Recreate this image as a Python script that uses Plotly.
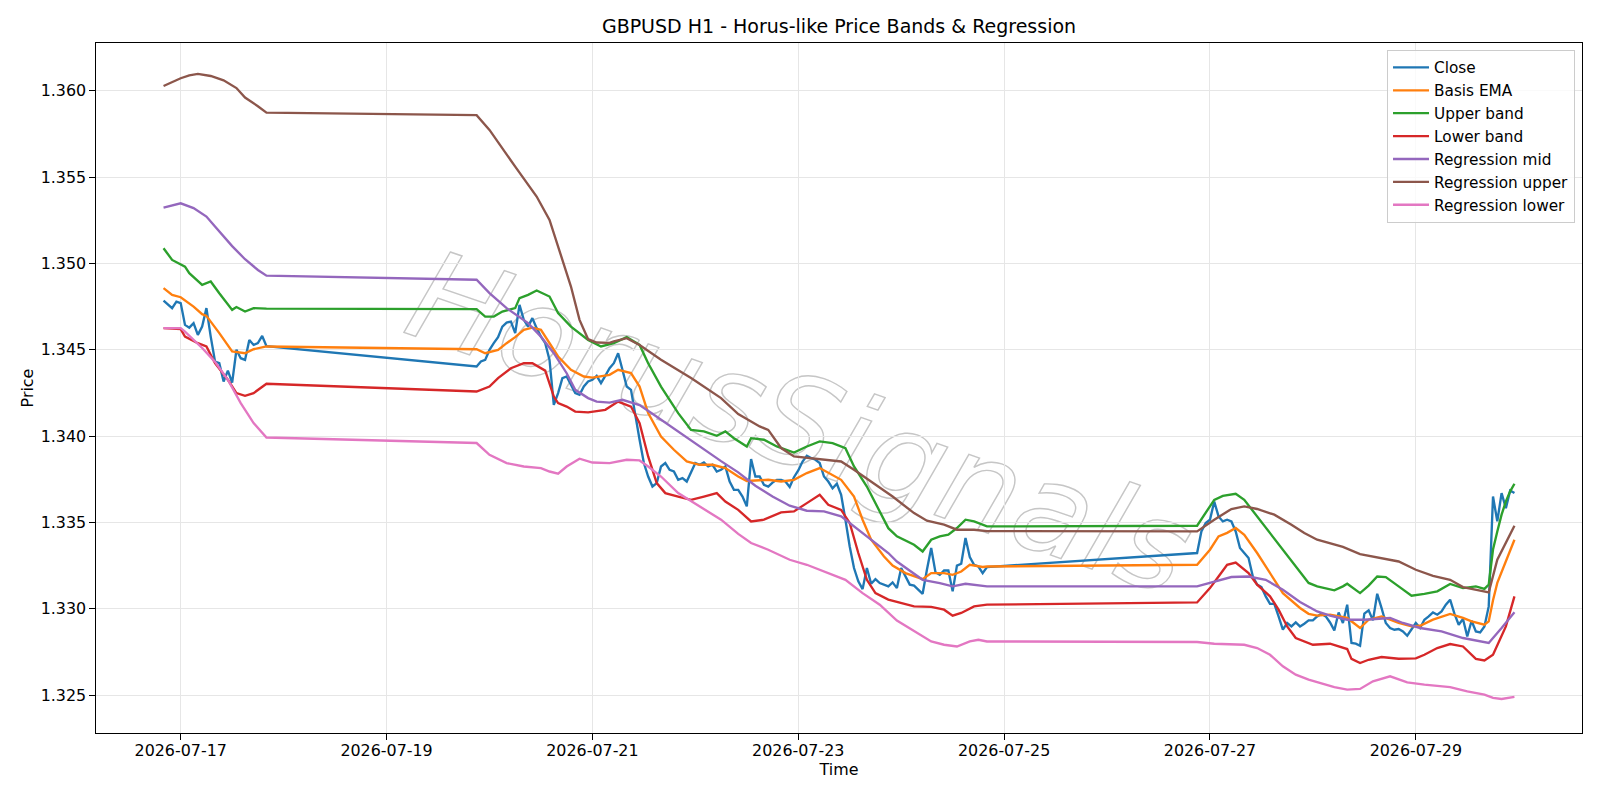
import pandas as pd
import plotly.graph_objects as go

BASE = pd.Timestamp("2026-07-17 00:00")

# ---------------- Close (hourly bars, three sessions) ----------------
close_seg_starts = ["2026-07-16 20:00", "2026-07-19 21:00", "2026-07-26 21:00"]
close_seg1 = [1.34785, 1.3476, 1.34741, 1.34779, 1.3477, 1.34644, 1.34628, 1.34654, 1.34586, 1.34634,
              1.34741, 1.34576, 1.34432, 1.34422, 1.34316, 1.34379, 1.3431, 1.345, 1.34451, 1.34441,
              1.34557, 1.34528, 1.34538, 1.3458, 1.34521]
close_seg2 = [1.34403, 1.34432, 1.34441, 1.34499, 1.34538, 1.34573, 1.34634, 1.34657, 1.34663, 1.34596,
              1.3476, 1.34673, 1.34634, 1.34683, 1.34625, 1.34576, 1.34538, 1.34441, 1.34181, 1.34249,
              1.34336, 1.34345, 1.34297, 1.34249, 1.34239,
              1.34287, 1.34316, 1.34326, 1.34349, 1.34307, 1.34349, 1.34393, 1.34422, 1.3448, 1.34384,
              1.34287, 1.34268, 1.34113, 1.33979, 1.33844, 1.33766, 1.33708, 1.33728, 1.33824, 1.33844,
              1.33805, 1.33795, 1.33747, 1.33757, 1.33737, 1.33795, 1.33844, 1.33834, 1.33847, 1.33824,
              1.33834, 1.33795, 1.33805, 1.33824, 1.33737, 1.33689, 1.33689, 1.3365, 1.33593, 1.33867,
              1.33766, 1.33766,
              1.33718, 1.33708, 1.33731, 1.33747, 1.33747, 1.33737, 1.33705, 1.33762, 1.33801, 1.33853,
              1.33886, 1.33873, 1.33863, 1.33844, 1.33766, 1.33737, 1.33698, 1.33724, 1.3366, 1.33516,
              1.33361, 1.33236, 1.33159, 1.33114, 1.33236, 1.33145, 1.33172,
              1.33149, 1.3314, 1.3313, 1.33153, 1.3312, 1.33236, 1.33191, 1.3314, 1.33134, 1.3311,
              1.33087, 1.33226, 1.33352, 1.33211, 1.33197, 1.33222, 1.33222, 1.33101, 1.3325, 1.33261,
              1.3341, 1.333, 1.33255, 1.33245, 1.33207, 1.33242]
close_seg3 = [1.33323, 1.33448, 1.33497, 1.33516, 1.33621, 1.33535, 1.33506, 1.33516, 1.33506, 1.33448,
              1.33352, 1.33323, 1.33294, 1.33187, 1.3314, 1.33126, 1.33072, 1.33029, 1.33029, 1.32956,
              1.32879, 1.32918, 1.32898, 1.32921, 1.32898, 1.32914, 1.32933, 1.32933, 1.32956,
              1.32972, 1.32956, 1.32921, 1.32875, 1.32979, 1.32918, 1.33024, 1.32802, 1.32798, 1.32786,
              1.32972, 1.32991, 1.32933, 1.33087, 1.33005, 1.32918, 1.32889, 1.32879, 1.32883, 1.32869,
              1.32844, 1.32879, 1.32918, 1.32889, 1.32937, 1.32956, 1.32979, 1.32966, 1.32985, 1.33024,
              1.33053, 1.32972, 1.32908, 1.32941, 1.3284, 1.32931, 1.32869, 1.32863, 1.32898, 1.33014,
              1.3365, 1.33506, 1.3367, 1.33583, 1.33685, 1.3367]

# ---------------- Indicator series (hours from 2026-07-17 00:00) ----------------
ema_hours = [-4, -2, 0, 3, 5, 6, 9, 12, 15, 17, 20,
             69, 71, 74, 76, 78, 80, 82, 84, 86, 88, 91, 94, 96, 98, 100, 102, 105, 107, 109, 112,
             115, 118, 121, 124, 127, 130, 132, 137, 140, 143, 146, 149, 152, 154, 157, 159, 161, 164,
             166, 169, 173, 175, 178, 180, 182, 184, 187, 188,
             237, 240, 242, 244, 246, 248, 251, 254, 257, 261, 263, 265, 268, 272, 275, 277, 280, 284,
             287, 289, 292, 296, 299, 301, 304, 305, 306, 307, 309, 311]
ema_vals = [1.34857, 1.34818, 1.34804, 1.3475, 1.34706, 1.34696, 1.34596, 1.3449, 1.3448, 1.34503, 1.34519,
            1.34503, 1.3448, 1.34499, 1.34538, 1.34573, 1.34615, 1.34628, 1.34615, 1.34538, 1.34461,
            1.34384, 1.34345, 1.34339, 1.34345, 1.34355, 1.34384, 1.34365, 1.34287, 1.34133, 1.33998,
            1.33921, 1.33853, 1.33834, 1.33834, 1.33815, 1.33766, 1.3374, 1.33747, 1.33737, 1.33747,
            1.33786, 1.33815, 1.33776, 1.33747, 1.3365, 1.33516, 1.334, 1.33303, 1.3325, 1.33207,
            1.33172, 1.33207, 1.33207, 1.33197, 1.33216, 1.33255, 1.33242, 1.33245,
            1.33255, 1.33342, 1.33419, 1.3344, 1.33468, 1.33429, 1.33323, 1.33207, 1.33091, 1.33005,
            1.32971, 1.32961, 1.32966, 1.32947, 1.32889, 1.32937, 1.32956, 1.32918, 1.32898, 1.32902,
            1.32937, 1.3297, 1.32947, 1.32927, 1.32908, 1.32927, 1.3305, 1.3315, 1.3327, 1.334]

upper_hours = [-4, -2, 1, 2, 5, 7, 9, 12, 13, 15, 17, 20,
               69, 71, 73, 75, 78, 79, 81, 83, 86, 88, 91, 95, 98, 101, 104, 107, 109, 112, 116, 119,
               122, 125, 127, 129, 132, 133, 136, 139, 143, 146, 149, 152, 155, 157, 160, 163, 165, 167,
               171, 173, 175, 177, 179, 181, 183, 185, 188,
               237, 239, 241, 243, 246, 248, 251, 254, 257, 261, 263, 265, 269, 271, 272, 275, 277, 279,
               281, 284, 287, 290, 293, 296, 299, 302, 304, 305, 306, 307, 308, 309, 310, 311]
upper_vals = [1.35088, 1.3502, 1.34981, 1.34943, 1.34876, 1.34895, 1.34827, 1.34731, 1.34747, 1.34721,
              1.34741, 1.34738,
              1.34735, 1.34692, 1.34692, 1.34721, 1.34741, 1.34799, 1.34818, 1.34843, 1.34808, 1.34712,
              1.34634, 1.34557, 1.34519, 1.34538, 1.34573, 1.34528, 1.34422, 1.34287, 1.34133, 1.34036,
              1.34027, 1.34002, 1.34027, 1.33988, 1.3394, 1.33988, 1.33979, 1.3394, 1.33905, 1.3394,
              1.33969, 1.33959, 1.3393, 1.33824, 1.33708, 1.33563, 1.33467, 1.3342, 1.33371, 1.33332,
              1.334, 1.33419, 1.33429, 1.33468, 1.33516, 1.33506, 1.33477,
              1.33481, 1.33554, 1.33631, 1.33654, 1.33666, 1.33631, 1.33535, 1.33439, 1.33342, 1.33215,
              1.3315, 1.3313, 1.33107, 1.3313, 1.33145, 1.33091, 1.33134, 1.33187, 1.33184, 1.3313,
              1.33076, 1.33087, 1.33101, 1.33144, 1.3312, 1.3313, 1.33115, 1.3314, 1.33343, 1.33448,
              1.33545, 1.33622, 1.3368, 1.33724]

lower_hours = [-4, 0, 1, 4, 6, 8, 11, 13, 15, 17, 20,
               69, 72, 74, 77, 80, 82, 85, 87, 88, 90, 92, 95, 99, 102, 105, 107, 109, 111, 113, 116,
               119, 122, 125, 127, 130, 133, 136, 140, 143, 146, 149, 151, 154, 156, 158, 160, 162, 165,
               168, 171, 175, 178, 180, 182, 185, 188,
               237, 240, 242, 244, 246, 248, 249, 251, 254, 256, 258, 260, 263, 264, 268, 272, 273, 275,
               277, 280, 284, 288, 290, 293, 296, 299, 302, 304, 306, 309, 311]
lower_vals = [1.34625, 1.34619, 1.34576, 1.34538, 1.34519, 1.34422, 1.34326, 1.34249, 1.34233, 1.34249, 1.34303,
              1.34258, 1.34287, 1.34336, 1.34393, 1.34422, 1.34422, 1.34379, 1.34229, 1.34191, 1.34171,
              1.34142, 1.34137, 1.34152, 1.342, 1.34171, 1.34075, 1.33882, 1.33728, 1.3367, 1.3365,
              1.33631, 1.3365, 1.3367, 1.33621, 1.33573, 1.33506, 1.33516, 1.33558, 1.33564, 1.33612,
              1.3366, 1.33602, 1.33573, 1.33497, 1.33323, 1.33168, 1.33091, 1.33053, 1.33034, 1.33014,
              1.33011, 1.32995, 1.3296, 1.32976, 1.33014, 1.33024,
              1.33037, 1.3312, 1.33187, 1.33255, 1.33268, 1.33226, 1.33207, 1.3314, 1.33072, 1.32995,
              1.32898, 1.32831, 1.32802, 1.32792, 1.32798, 1.32767, 1.3271, 1.32686, 1.32705, 1.32721,
              1.32711, 1.32713, 1.32734, 1.32773, 1.32796, 1.32782, 1.3271, 1.32701, 1.32734, 1.32898,
              1.33072]

regmid_hours = [-4, 0, 3, 6, 8, 12, 15, 18, 20,
                69, 72, 76, 81, 84, 87, 90, 92, 95, 97, 100, 103, 107, 110, 114, 118, 122, 126, 130, 134,
                138, 142, 146, 150, 154, 157, 161, 165, 167, 173, 177, 180, 183, 188,
                237, 241, 245, 249, 253, 257, 261, 265, 268, 272, 276, 282, 285, 289, 294, 299, 305, 308, 311]
regmid_vals = [1.35323, 1.35348, 1.3532, 1.35271, 1.35213, 1.351, 1.35024, 1.34962, 1.34929,
               1.34905, 1.34828, 1.34741, 1.34654, 1.34576, 1.3448, 1.34364, 1.34268, 1.3422, 1.342,
               1.34194, 1.3421, 1.3418, 1.3413, 1.3406, 1.3399, 1.3392, 1.33855, 1.3379, 1.33713,
               1.3365, 1.33597, 1.33568, 1.33564, 1.33535, 1.33477, 1.334, 1.33323, 1.33274, 1.33168,
               1.33149, 1.3313, 1.33145, 1.3313,
               1.3313, 1.33155, 1.33184, 1.33187, 1.33168, 1.3311, 1.3304, 1.32985, 1.3296, 1.32937,
               1.32937, 1.32947, 1.32918, 1.32889, 1.32869, 1.32831, 1.32802, 1.32889, 1.3298]

regup_hours = [-4, 0, 2, 4, 7, 10, 13, 15, 18, 20,
               69, 72, 78, 83, 86, 88, 91, 93, 95, 97, 100, 101, 104, 107, 112, 119, 126, 130, 133, 135,
               137, 140, 143, 146, 150, 154, 157, 161, 166, 171, 174, 178, 181, 185, 188,
               237, 241, 245, 248, 251, 255, 259, 262, 265, 271, 275, 278, 284, 288, 292, 296, 299, 303,
               305, 307, 311]
regup_vals = [1.36027, 1.36072, 1.36089, 1.36097, 1.36085, 1.3606, 1.36015, 1.3596, 1.3591, 1.35873,
              1.35858, 1.35773, 1.3556, 1.35387, 1.35252, 1.35097, 1.34866, 1.34673, 1.34561, 1.34542,
              1.3454, 1.34548, 1.34567, 1.34528, 1.34442, 1.34336, 1.3422, 1.34128, 1.34084, 1.34056,
              1.34036, 1.33931, 1.33882, 1.33873, 1.33863, 1.33853, 1.33805, 1.33737, 1.3365, 1.33554,
              1.3351, 1.33487, 1.33458, 1.33458, 1.3345,
              1.33448, 1.33516, 1.33578, 1.33593, 1.33578, 1.33545, 1.33487, 1.33439, 1.334, 1.33358,
              1.33317, 1.33303, 1.33274, 1.33226, 1.33191, 1.33168, 1.33126, 1.33105, 1.33095, 1.33284,
              1.33481]

reglow_hours = [-4, 0, 1, 5, 8, 11, 14, 17, 20,
                69, 72, 76, 80, 84, 86, 88, 90, 93, 96, 100, 104, 107, 109, 112, 116, 121, 126, 130, 133,
                137, 142, 146, 150, 155, 159, 163, 167, 171, 175, 178, 181, 184, 186, 188,
                237, 241, 248, 251, 254, 257, 260, 263, 265, 269, 272, 275, 278, 282, 286, 290, 296, 300,
                304, 306, 308, 311]
reglow_vals = [1.34625, 1.34625, 1.34605, 1.3451, 1.3443, 1.34326, 1.34191, 1.34075, 1.33992,
               1.3396, 1.33892, 1.33844, 1.33824, 1.33815, 1.33795, 1.33782, 1.33824, 1.33869, 1.33847,
               1.33844, 1.33863, 1.33859, 1.33824, 1.33766, 1.3367, 1.33593, 1.33516, 1.33434, 1.33381,
               1.33342, 1.33284, 1.33255, 1.33216, 1.33168, 1.33091, 1.33024, 1.32932, 1.32869, 1.32811,
               1.32792, 1.32782, 1.32811, 1.32821, 1.32811,
               1.32808, 1.32798, 1.32792, 1.32773, 1.32734, 1.32667, 1.32619, 1.3259, 1.32575, 1.32547,
               1.32532, 1.32536, 1.3258, 1.32609, 1.32574, 1.32561, 1.32547, 1.32522, 1.32503, 1.32484,
               1.32478, 1.3249]

x_tick_dates = ["2026-07-17", "2026-07-19", "2026-07-21", "2026-07-23", "2026-07-25", "2026-07-27", "2026-07-29"]

TITLE = "GBPUSD H1 - Horus-like Price Bands & Regression"
WATERMARK = "HorusSignals"

COLORS = {
    "Close": "#1f77b4", "Basis EMA": "#ff7f0e", "Upper band": "#2ca02c", "Lower band": "#d62728",
    "Regression mid": "#9467bd", "Regression upper": "#8c564b", "Regression lower": "#e377c2",
}


def hours_to_times(hours):
    return [BASE + pd.Timedelta(hours=h) for h in hours]


close_x, close_y = [], []
for start, seg in zip(close_seg_starts, [close_seg1, close_seg2, close_seg3]):
    close_x += list(pd.date_range(start, periods=len(seg), freq="h"))
    close_y += seg

series = [
    ("Close", close_x, close_y),
    ("Basis EMA", hours_to_times(ema_hours), ema_vals),
    ("Upper band", hours_to_times(upper_hours), upper_vals),
    ("Lower band", hours_to_times(lower_hours), lower_vals),
    ("Regression mid", hours_to_times(regmid_hours), regmid_vals),
    ("Regression upper", hours_to_times(regup_hours), regup_vals),
    ("Regression lower", hours_to_times(reglow_hours), reglow_vals),
]

fig = go.Figure()
for name, xs, ys in series:
    fig.add_trace(go.Scatter(x=xs, y=ys, mode="lines", name=name,
                             line=dict(color=COLORS[name], width=2.35)))

FONT = "DejaVu Sans, Liberation Sans, Arial, sans-serif"
x_start = BASE + pd.Timedelta(hours=-19.75)
x_end = BASE + pd.Timedelta(hours=326.75)

axis_common = dict(showline=True, linecolor="black", linewidth=1.25, mirror=True,
                   ticks="outside", ticklen=5.5, tickwidth=1.25, tickcolor="black",
                   showgrid=True, gridcolor="#e6e6e6", gridwidth=1.2, zeroline=False,
                   tickfont=dict(family=FONT, size=15.9, color="black"))

fig.update_layout(
    width=1600, height=800,
    margin=dict(l=96, r=18, t=43, b=67),
    paper_bgcolor="white", plot_bgcolor="white",
    title=dict(text=TITLE, x=0.5, xref="paper", xanchor="center", y=1 - 26.5 / 800, yref="container",
               yanchor="middle", font=dict(family=FONT, size=19, color="black")),
    xaxis=dict(type="date", range=[x_start, x_end], tickvals=x_tick_dates, ticktext=x_tick_dates,
               ticklabelstandoff=-3,
               title=dict(text="Time", font=dict(family=FONT, size=15.9, color="black"), standoff=5),
               **axis_common),
    yaxis=dict(range=[1.32281, 1.36276], tick0=1.325, dtick=0.005, tickformat=".3f",
               title=dict(text="Price", font=dict(family=FONT, size=15.9, color="black"), standoff=3),
               **axis_common),
    legend=dict(x=0.9953, y=0.9899, xanchor="right", yanchor="top", traceorder="normal",
                itemwidth=36,
                bgcolor="rgba(255,255,255,0.8)", bordercolor="#cccccc", borderwidth=1,
                font=dict(family=FONT, size=15.3, color="black")),
    showlegend=True,
)

# watermark behind the data
fig.add_shape(type="rect", xref="x domain", yref="y domain", x0=0.076, x1=0.876, y0=0.252, y1=0.672,
              line=dict(width=0), fillcolor="rgba(0,0,0,0)", layer="below",
              label=dict(text='<span style="fill:none;stroke:#c6c6c6;stroke-width:1.4px">' + WATERMARK + '</span>',
                         textangle=19, textposition="middle center",
                         font=dict(family="DejaVu Sans", size=125, style="italic", color="rgba(150,150,150,0.3)")))

fig.write_html("out.html")
